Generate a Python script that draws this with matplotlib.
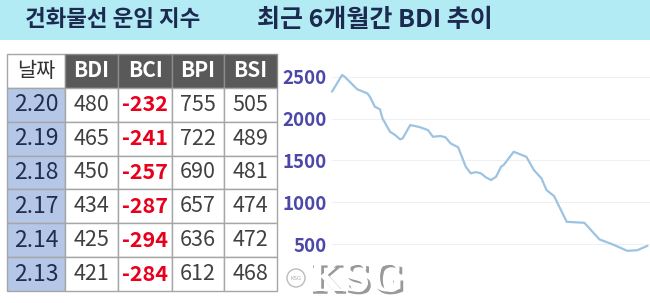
import matplotlib
matplotlib.use('Agg')
import matplotlib.pyplot as plt
import matplotlib.patheffects as pe
from matplotlib.patches import Rectangle, Circle

plt.rcParams['font.family'] = ['Noto Sans CJK KR', 'DejaVu Sans']

# Titles
title_left = '건화물선 운임 지수'
title_right = '최근 6개월간 BDI 추이'

# Table data
col_labels = ['날짜', 'BDI', 'BCI', 'BPI', 'BSI']
dates = ['2.20', '2.19', '2.18', '2.17', '2.14', '2.13']
bdi = [480, 465, 450, 434, 425, 421]
bci = [-232, -241, -257, -287, -294, -284]
bpi = [755, 722, 690, 657, 636, 612]
bsi = [505, 489, 481, 474, 472, 468]

# BDI over the last 6 months (trading-day offset, index value)
bdi_days = [0, 4, 5, 7, 10, 14, 15, 17, 19, 20, 23, 25, 27, 28, 31, 33, 35, 38,
            40, 43, 45, 47, 50, 53, 55, 57, 59, 61, 63, 65, 66, 67, 68, 72, 77,
            80, 83, 85, 88, 93, 100, 106, 111, 117, 121, 125]
bdi_hist = [2322, 2521, 2501, 2441, 2350, 2302, 2262, 2142, 2111, 2003, 1843,
            1804, 1752, 1764, 1923, 1911, 1896, 1863, 1783, 1792, 1776, 1704,
            1657, 1425, 1346, 1361, 1346, 1298, 1266, 1305, 1365, 1425, 1445,
            1604, 1544, 1385, 1286, 1146, 1074, 767, 755, 556, 500, 420, 428, 480]
y_ticks = [500, 1000, 1500, 2000, 2500]

W, H = 650, 303
fig = plt.figure(figsize=(W / 100, H / 100), dpi=100)
fig.patch.set_facecolor('white')

# Background / banner in pixel coords
bg = fig.add_axes([0, 0, 1, 1])
bg.set_xlim(0, W)
bg.set_ylim(H, 0)
bg.axis('off')
bg.add_patch(Rectangle((0, 0), W, 40, facecolor='#b3ebf5', edgecolor='none'))
bg.text(25, 20, title_left, fontsize=16.2, fontweight='bold', color='#1b2a4e',
        ha='left', va='center')
bg.text(257, 20, title_right, fontsize=18, fontweight='bold', color='#1b2a4e',
        ha='left', va='center')

# Table
tx0, tx1, ty0, ty1 = 7, 277, 54, 291
tab_ax = fig.add_axes([tx0 / W, (H - ty1) / H, (tx1 - tx0) / W, (ty1 - ty0) / H])
tab_ax.axis('off')
rows = [[d, str(a), str(b), str(c), str(e)]
        for d, a, b, c, e in zip(dates, bdi, bci, bpi, bsi)]
col_w = [58, 53, 54, 52, 53]
tbl = tab_ax.table(cellText=[col_labels] + rows, cellLoc='center',
                   colWidths=[w / sum(col_w) for w in col_w], bbox=[0, 0, 1, 1])
tbl.auto_set_font_size(False)
for (r, c), cell in tbl.get_celld().items():
    cell.set_linewidth(1)
    cell.set_edgecolor('#a6a6a6')
    txt = cell.get_text()
    txt.set_fontsize(15.5)
    if r == 0:
        txt.set_fontsize(15)
        if c == 0:
            cell.set_facecolor('white')
            txt.set_color('#333333')
        else:
            cell.set_facecolor('#595959')
            cell.set_edgecolor('#8c8c8c')
            txt.set_color('white')
            txt.set_fontweight('bold')
    elif c == 0:
        cell.set_facecolor('#b4c7e7')
        txt.set_color('#1f2d50')
        txt.set_fontsize(16.5)
    elif c == 2:
        cell.set_facecolor('white')
        txt.set_color('#e8001c')
        txt.set_fontweight('bold')
    else:
        cell.set_facecolor('white')
        txt.set_color('#404040')
        txt.set_fontweight('medium')

# BDI line chart
cx0, cx1, cy0, cy1 = 332, 650, 55, 286
ax = fig.add_axes([cx0 / W, (H - cy1) / H, (cx1 - cx0) / W, (cy1 - cy0) / H])
ax.set_facecolor('none')
ax.plot(bdi_days, bdi_hist, color='#9cc3e2', linewidth=1.6,
        solid_joinstyle='round', solid_capstyle='round', clip_on=False)
ax.set_xlim(0, 126)
ax.set_ylim(0, 2760)
ax.set_yticks(y_ticks)
ax.set_yticklabels([str(v) for v in y_ticks])
ax.set_xticks([])
ax.tick_params(axis='y', length=0, pad=4, labelsize=13.5, labelcolor='#4b48a8')
for lab in ax.get_yticklabels():
    lab.set_fontweight('bold')
ax.grid(axis='y', color='#f0f0f0', linewidth=0.8)
ax.set_axisbelow(True)
for s in ax.spines.values():
    s.set_visible(False)

# KSG watermark
shadow = [pe.withSimplePatchShadow(offset=(2, -2), shadow_rgbFace='#555555', alpha=0.6)]
bg.text(356, 280, 'KSG', fontsize=28, fontweight='bold', family='DejaVu Serif',
        color='white', ha='center', va='center', path_effects=shadow)
bg.add_patch(Circle((296, 278), 9, facecolor='white', edgecolor='#bbbbbb',
                    linewidth=1))
bg.text(296, 278, 'KSG', fontsize=4, color='#aaaaaa', ha='center', va='center',
        family='DejaVu Sans')

fig.savefig('out.png', dpi=100)
